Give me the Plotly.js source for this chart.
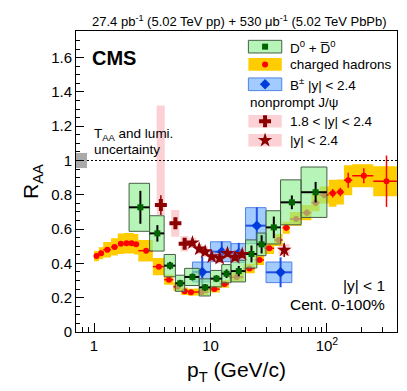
<!DOCTYPE html>
<html>
<head>
<meta charset="utf-8">
<script src="https://cdn.plot.ly/plotly-3.0.1.min.js"></script>
<style>
html, body { margin: 0; padding: 0; background: #fff; }
#graph { width: 407px; height: 391px; }
</style>
</head>
<body>
<div id="graph"></div>
<script>
// charged hadrons |y| < 1
const chPt   = [1.05, 1.15, 1.3, 1.5, 1.7, 1.9, 2.1, 2.3, 2.8, 3.6, 4.4, 5.2, 6.0, 6.8, 8.4, 10.8, 13.2, 16.8, 21.6, 26.4, 32, 38.4, 44.8, 54.4, 67.2, 80, 95, 112.2, 130.4, 152.5, 207.5, 325];
const chLo   = [1.0, 1.1, 1.2, 1.4, 1.6, 1.8, 2.0, 2.2, 2.4, 3.2, 4.0, 4.8, 5.6, 6.4, 7.2, 9.6, 12, 14.4, 19.2, 24, 28.8, 35.2, 41.6, 48, 60.8, 73.6, 86.4, 103.6, 120.8, 140, 165, 250];
const chHi   = [1.1, 1.2, 1.4, 1.6, 1.8, 2.0, 2.2, 2.4, 3.2, 4.0, 4.8, 5.6, 6.4, 7.2, 9.6, 12, 14.4, 19.2, 24, 28.8, 35.2, 41.6, 48, 60.8, 73.6, 86.4, 103.6, 120.8, 140, 165, 250, 400];
const chRaa  = [0.443, 0.459, 0.48, 0.496, 0.515, 0.517, 0.517, 0.512, 0.474, 0.381, 0.305, 0.264, 0.238, 0.232, 0.233, 0.25, 0.28, 0.32, 0.37, 0.42, 0.488, 0.536, 0.608, 0.659, 0.696, 0.754, 0.799, 0.809, 0.816, 0.885, 0.911, 0.879];
const chStat = [0.005, 0.005, 0.005, 0.005, 0.005, 0.005, 0.005, 0.005, 0.005, 0.005, 0.005, 0.005, 0.005, 0.005, 0.005, 0.005, 0.006, 0.007, 0.008, 0.01, 0.012, 0.015, 0.018, 0.015, 0.02, 0.02, 0.02, 0.025, 0.025, 0.044, 0.044, 0.15];
const chSys  = [0.03, 0.035, 0.045, 0.05, 0.06, 0.06, 0.06, 0.06, 0.063, 0.05, 0.03, 0.025, 0.022, 0.02, 0.02, 0.02, 0.022, 0.025, 0.028, 0.03, 0.033, 0.035, 0.035, 0.04, 0.045, 0.05, 0.05, 0.078, 0.073, 0.087, 0.067, 0.087];

// D0 + D0bar
const dPt   = [2.5, 3.5, 4.5, 5.5, 7, 9, 11.25, 13.75, 17.5, 22.5, 27.5, 35, 50, 80];
const dLo   = [2, 3, 4, 5, 6, 8, 10, 12.5, 15, 20, 25, 30, 40, 60];
const dHi   = [3, 4, 5, 6, 8, 10, 12.5, 15, 20, 25, 30, 40, 60, 100];
const dRaa  = [0.727, 0.575, 0.387, 0.284, 0.321, 0.26, 0.311, 0.34, 0.355, 0.455, 0.511, 0.61, 0.756, 0.815];
const dStat = [0.096, 0.048, 0.022, 0.02, 0.02, 0.02, 0.02, 0.025, 0.03, 0.049, 0.053, 0.063, 0.04, 0.06];
const dSys  = [0.14, 0.103, 0.065, 0.047, 0.05, 0.05, 0.048, 0.053, 0.063, 0.082, 0.066, 0.097, 0.131, 0.147];

// B+- |y| < 2.4
const bPt   = [8.5, 12.5, 17.5, 25, 40];
const bLo   = [7, 10, 15, 20, 30];
const bHi   = [10, 15, 20, 30, 50];
const bRaa  = [0.35, 0.468, 0.46, 0.62, 0.348];
const bStat = [0.087, 0.06, 0.06, 0.107, 0.087];
const bSys  = [0.058, 0.058, 0.055, 0.105, 0.06];

// nonprompt J/psi 1.8 < |y| < 2.4
const jfPt    = [3.75, 5.0, 6.0];
const jfRaa   = [0.74, 0.634, 0.514];
const jfStat  = [0.058, 0.03, 0.03];
const jfBoxLo = [3.45, 4.6, 5.55];
const jfBoxHi = [4.05, 5.4, 6.45];
const jfSysLo = [0.68, 0.556, 0.47];
const jfSysHi = [1.32, 0.712, 0.56];

// nonprompt J/psi |y| < 2.4
const jcPt    = [7, 8, 9, 10.25, 12, 14, 16.25, 18.75, 43];
const jcRaa   = [0.52, 0.484, 0.468, 0.439, 0.43, 0.459, 0.436, 0.453, 0.478];
const jcStat  = [0.02, 0.02, 0.02, 0.02, 0.02, 0.02, 0.02, 0.02, 0.04];
const jcBoxLo = [6.5, 7.5, 8.5, 9.5, 11, 13, 15, 17.5, 38.5];
const jcBoxHi = [7.5, 8.5, 9.5, 11, 13, 15, 17.5, 20, 48];
const jcSys   = [0.03, 0.03, 0.03, 0.03, 0.03, 0.03, 0.03, 0.03, 0.035];

// T_AA + lumi uncertainty at unity
const taaLo = 0.7, taaHi = 0.87, taaUnc = 0.044;

const RED = 'rgb(255,0,0)';
const DARKRED = 'rgb(140,0,0)';
const FONT = 'Liberation Sans, Arial, sans-serif';

// closed rectangles separated by nulls, filled with 'toself'
function boxes(xlo, xhi, ylo, yhi) {
    const x = [], y = [];
    xlo.forEach((_, i) => {
        x.push(xlo[i], xhi[i], xhi[i], xlo[i], xlo[i], null);
        y.push(ylo[i], ylo[i], yhi[i], yhi[i], ylo[i], null);
    });
    return {x, y};
}

function boxTrace(b, fill, line) {
    return {
        x: b.x, y: b.y, type: 'scatter', mode: 'lines', fill: 'toself',
        fillcolor: fill, line: line || {width: 0, color: 'rgba(0,0,0,0)'},
        hoverinfo: 'skip', showlegend: false
    };
}

function pointTrace(x, y, lo, hi, stat, marker, errColor, thick) {
    const t = {
        x: x, y: y, type: 'scatter', mode: 'markers', marker: marker, showlegend: false,
        error_y: {type: 'data', array: stat, color: errColor, thickness: thick, width: 0}
    };
    if (lo) {
        t.error_x = {type: 'data', symmetric: false,
            array: x.map((v, i) => hi[i] - v), arrayminus: x.map((v, i) => v - lo[i]),
            color: errColor, thickness: thick, width: 0};
    }
    return t;
}

const chBox = boxes(chLo, chHi, chRaa.map((v, i) => v - chSys[i]), chRaa.map((v, i) => v + chSys[i]));
const dBox  = boxes(dLo, dHi, dRaa.map((v, i) => v - dSys[i]), dRaa.map((v, i) => v + dSys[i]));
const bBox  = boxes(bLo, bHi, bRaa.map((v, i) => v - bSys[i]), bRaa.map((v, i) => v + bSys[i]));
const jfBox = boxes(jfBoxLo, jfBoxHi, jfSysLo, jfSysHi);
const jcBox = boxes(jcBoxLo, jcBoxHi, jcRaa.map((v, i) => v - jcSys[i]), jcRaa.map((v, i) => v + jcSys[i]));
const taaBox = boxes([taaLo], [taaHi], [1 - taaUnc], [1 + taaUnc]);

const GREEN_FILL = 'rgba(144,238,144,0.65)';
const BLUE_FILL = 'rgba(100,170,255,0.6)';
const PINK_FILL = 'rgba(245,140,150,0.4)';
const YELLOW = 'rgb(255,204,0)';

const traces = [
    boxTrace(chBox, YELLOW),
    pointTrace(chPt, chRaa, chLo, chHi, chStat, {symbol: 'circle', size: 6, color: RED}, RED, 1.5),
    boxTrace(bBox, BLUE_FILL, {width: 1, color: 'rgb(80,130,230)'}),
    pointTrace(bPt, bRaa, bLo, bHi, bStat, {symbol: 'diamond', size: 8, color: 'rgb(0,60,220)'}, 'rgb(30,80,230)', 2),
    boxTrace(dBox, GREEN_FILL, {width: 1, color: 'rgb(70,95,70)'}),
    pointTrace(dPt, dRaa, dLo, dHi, dStat, {symbol: 'square', size: 6, color: 'rgb(0,100,0)'}, 'black', 2),
    boxTrace(jfBox, PINK_FILL),
    boxTrace(jcBox, PINK_FILL),
    pointTrace(jfPt, jfRaa, null, null, jfStat, {symbol: 'cross', size: 10, color: DARKRED}, DARKRED, 1.5),
    pointTrace(jcPt, jcRaa, null, null, jcStat, {symbol: 'star', size: 11, color: DARKRED}, DARKRED, 1.5),
    boxTrace(taaBox, 'rgb(170,170,170)'),
    {x: [taaHi, 400], y: [1, 1], type: 'scatter', mode: 'lines', showlegend: false,
     line: {color: 'black', width: 1, dash: '2px,2px'}, hoverinfo: 'skip'}
];

// hand-made legend (paper coordinates)
const legX0 = 0.537, legX1 = 0.641, legXm = 0.589, legTxt = 0.66, legH = 0.021;
const legRows = [0.948, 0.889, 0.823, 0.700, 0.637];
const legLabels = ['D<sup>0</sup> + D\u0305<sup>0</sup>', 'charged hadrons', 'B<sup>\u00b1</sup> |y| < 2.4', '1.8 < |y| < 2.4', '|y| < 2.4'];
const legFill = [GREEN_FILL, YELLOW, BLUE_FILL, PINK_FILL, PINK_FILL];
const legLine = ['rgb(70,95,70)', null, 'rgb(80,130,230)', null, null];
const legMarkers = [
    {symbol: 'square', size: 6, color: 'rgb(0,100,0)'},
    {symbol: 'circle', size: 6, color: RED},
    {symbol: 'diamond', size: 8, color: 'rgb(0,60,220)'},
    {symbol: 'cross', size: 10, color: DARKRED},
    {symbol: 'star', size: 11, color: DARKRED}
];

const shapes = legRows.map((y, i) => ({
    type: 'rect', xref: 'paper', yref: 'paper', layer: 'below',
    x0: legX0, x1: legX1, y0: y - legH, y1: y + legH,
    fillcolor: legFill[i], line: legLine[i] ? {color: legLine[i], width: 1} : {width: 0}
}));

legMarkers.forEach((m, i) => {
    traces.push({x: [legXm], y: [legRows[i]], xaxis: 'x2', yaxis: 'y2', type: 'scatter',
        mode: 'markers', marker: m, showlegend: false, hoverinfo: 'skip', cliponaxis: false});
});

const annotations = legRows.map((y, i) => ({
    xref: 'paper', yref: 'paper', x: legTxt, y: y, xanchor: 'left', yanchor: 'middle',
    text: legLabels[i], showarrow: false, font: {family: FONT, size: 13.5, color: 'black'}
}));

annotations.push(
    {xref: 'paper', yref: 'paper', x: 0.536, y: 0.762, xanchor: 'left', yanchor: 'middle',
     text: 'nonprompt J/\u03c8', showarrow: false, font: {family: FONT, size: 13.5, color: 'black'}},
    {xref: 'paper', yref: 'paper', x: 0.044, y: 0.91, xanchor: 'left', yanchor: 'middle',
     text: '<b>CMS</b>', showarrow: false, font: {family: FONT, size: 20, color: 'black'}},
    {xref: 'paper', yref: 'paper', x: 0.05, y: 0.656, xanchor: 'left', yanchor: 'middle',
     text: 'T<sub>AA</sub> and lumi.', showarrow: false, font: {family: FONT, size: 13.5, color: 'black'}},
    {xref: 'paper', yref: 'paper', x: 0.05, y: 0.607, xanchor: 'left', yanchor: 'middle',
     text: 'uncertainty', showarrow: false, font: {family: FONT, size: 13.5, color: 'black'}},
    {xref: 'paper', yref: 'paper', x: 0.969, y: 0.153, xanchor: 'right', yanchor: 'middle',
     text: '|y| < 1', showarrow: false, font: {family: FONT, size: 15.5, color: 'black'}},
    {xref: 'paper', yref: 'paper', x: 0.969, y: 0.09, xanchor: 'right', yanchor: 'middle',
     text: 'Cent. 0-100%', showarrow: false, font: {family: FONT, size: 15.5, color: 'black'}},
    {xref: 'paper', yref: 'paper', x: 0.975, y: 1.033, xanchor: 'right', yanchor: 'middle',
     text: '27.4 pb<sup>-1</sup> (5.02 TeV pp) + 530 \u03bcb<sup>-1</sup> (5.02 TeV PbPb)',
     showarrow: false, font: {family: FONT, size: 13, color: 'black'}}
);

const xMinor = [0.7, 0.8, 0.9, 2, 3, 4, 5, 6, 7, 8, 9, 20, 30, 40, 50, 60, 70, 80, 90, 200, 300, 400];

const layout = {
    width: 407, height: 391,
    margin: {l: 76, r: 10, t: 31, b: 59},
    paper_bgcolor: 'white', plot_bgcolor: 'white',
    font: {family: FONT, color: 'black'},
    showlegend: false,
    xaxis: {
        type: 'log', range: [Math.log10(0.7), Math.log10(400)],
        showgrid: false, zeroline: false,
        showline: true, mirror: true, linecolor: 'black', linewidth: 1,
        ticks: 'inside', ticklen: 9, tickcolor: 'black',
        tickvals: [1, 10, 100], ticktext: ['1', '10', '10<sup>2</sup>'],
        tickfont: {size: 15},
        minor: {tickvals: xMinor, ticks: 'inside', ticklen: 5, tickcolor: 'black', showgrid: false},
        title: {text: 'p<sub>T</sub> (GeV/c)', font: {size: 21}, standoff: 9}
    },
    yaxis: {
        range: [0, 1.755], showgrid: false, zeroline: false,
        showline: true, mirror: true, linecolor: 'black', linewidth: 1,
        ticks: 'inside', ticklen: 8, tickcolor: 'black',
        dtick: 0.2, tick0: 0, tickfont: {size: 15},
        minor: {dtick: 0.05, ticks: 'inside', ticklen: 4, tickcolor: 'black', showgrid: false},
        title: {text: 'R<sub>AA</sub>', font: {size: 21}, standoff: 6}
    },
    xaxis2: {overlaying: 'x', range: [0, 1], visible: false, fixedrange: true},
    yaxis2: {overlaying: 'y', range: [0, 1], visible: false, fixedrange: true},
    shapes: shapes,
    annotations: annotations
};

Plotly.newPlot('graph', traces, layout, {displayModeBar: false, staticPlot: true});
</script>
</body>
</html>
